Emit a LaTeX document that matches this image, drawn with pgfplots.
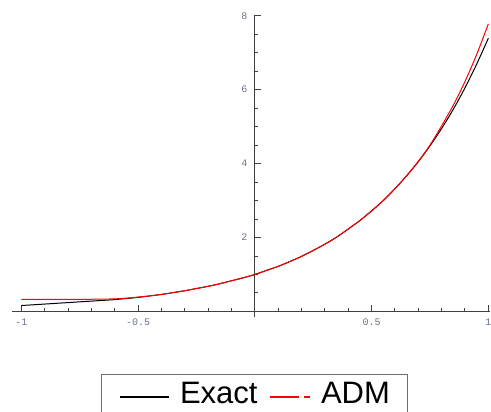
\documentclass[border=0pt]{standalone}
\usepackage{fontspec}
\setmainfont{Liberation Sans}
\setmonofont{Liberation Mono}
\usepackage{pgfplots}
\pgfplotsset{compat=1.18}
\definecolor{axisgray}{RGB}{64,64,64}
\definecolor{ticktext}{RGB}{105,115,135}
\definecolor{legendgray}{RGB}{110,110,110}

\begin{document}
\begin{tikzpicture}
\useasboundingbox (0pt,0pt) rectangle (491pt,412pt);
\begin{axis}[
  at={(12pt,95pt)}, anchor=south west,
  scale only axis, width=477.5pt, height=302pt,
  xmin=-1.04, xmax=1.005, ymin=-0.15, ymax=8.02,
  axis lines=middle,
  axis line style={axisgray, line width=1.2pt, -},
  xtick={-1,-0.5,0.5,1}, xticklabels={-1,-0.5,0.5,1},
  minor xtick={-0.9,-0.8,-0.7,-0.6,-0.4,-0.3,-0.2,-0.1,0.1,0.2,0.3,0.4,0.6,0.7,0.8,0.9},
  ytick={2,4,6,8}, yticklabels={2,4,6,8},
  minor ytick={0.5,1,1.5,2.5,3,3.5,4.5,5,5.5,6.5,7,7.5},
  tick align=inside,
  major tick length=6pt, minor tick length=3.5pt,
  tick style={axisgray, line width=1pt},
  tick label style={font=\ttfamily\fontsize{10}{10}\selectfont, text=ticktext},
  xticklabel style={yshift=-4pt},
  yticklabel style={xshift=-4pt},
  legend style={at={(0.1864,-0.1887)}, anchor=north west,
    draw=legendgray, line width=1pt,
    font=\fontsize{31}{31}\selectfont,
    inner xsep=18pt, inner ysep=8pt,
    nodes={inner sep=0pt, text depth=8pt},
    /tikz/every odd column/.append style={column sep=10pt},
    /tikz/every even column/.append style={column sep=12pt}},
  legend columns=2,
]
\addplot[black, line width=1pt, smooth,
  legend image code/.code={\draw[black, line width=1.5pt] (0pt,0pt) -- (49pt,0pt);}] coordinates {
(-1,0.16) (-0.95,0.18) (-0.9,0.20) (-0.85,0.22) (-0.8,0.24) (-0.75,0.26)
(-0.7,0.28) (-0.65,0.30) (-0.6,0.32) (-0.55,0.35) (-0.5,0.38) (-0.45,0.42)
(-0.4,0.46) (-0.35,0.51) (-0.3,0.56) (-0.25,0.62) (-0.2,0.68) (-0.15,0.75)
(-0.1,0.83) (-0.05,0.91) (0,1.00) (0.05,1.11) (0.1,1.22) (0.15,1.35)
(0.2,1.49) (0.25,1.65) (0.3,1.82) (0.35,2.01) (0.4,2.23) (0.45,2.46)
(0.5,2.72) (0.55,3.00) (0.6,3.32) (0.65,3.67) (0.7,4.05) (0.75,4.48)
(0.8,4.95) (0.85,5.47) (0.9,6.05) (0.95,6.69) (1.0,7.39)};
\addlegendentry{Exact}
\addplot[red, line width=1pt, smooth,
  legend image code/.code={\draw[color=red, line width=1.5pt] (0pt,0pt) -- (29pt,0pt);
    \draw[color=red, line width=1.5pt] (34pt,0pt) -- (40pt,0pt);}] coordinates {
(-1,0.33) (-0.95,0.33) (-0.9,0.33) (-0.85,0.33) (-0.8,0.33) (-0.75,0.33)
(-0.7,0.33) (-0.65,0.335) (-0.6,0.34) (-0.55,0.36) (-0.5,0.39) (-0.45,0.42)
(-0.4,0.46) (-0.35,0.51) (-0.3,0.56) (-0.25,0.62) (-0.2,0.68) (-0.15,0.75)
(-0.1,0.83) (-0.05,0.91) (0,1.00) (0.05,1.11) (0.1,1.22) (0.15,1.35)
(0.2,1.49) (0.25,1.65) (0.3,1.82) (0.35,2.01) (0.4,2.23) (0.45,2.46)
(0.5,2.72) (0.55,3.00) (0.6,3.32) (0.65,3.67) (0.7,4.06) (0.75,4.50)
(0.8,5.02) (0.85,5.58) (0.9,6.22) (0.95,6.95) (1.0,7.78)};
\addlegendentry{ADM}
\end{axis}
\end{tikzpicture}
\end{document}
